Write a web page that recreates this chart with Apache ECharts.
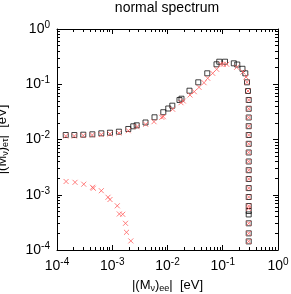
<!DOCTYPE html>
<html><head><meta charset="utf-8">
<script src="https://cdn.jsdelivr.net/npm/echarts@6/dist/echarts.min.js"></script>
<style>html,body{margin:0;padding:0;background:#fff}#c{width:291px;height:294px}</style>
</head><body><div id="c"></div>
<script>
var titleText = 'normal spectrum';
var xName = '|(M{sub|ν}){sub|ee}|  [eV]';
var yName = '|(M{sub|ν}){sub|eτ}|  [eV]';

// black open squares
var squareX = [1.44e-4, 2.06e-4, 2.99e-4, 4.36e-4, 6.34e-4, 9.1e-4, 1.32e-3, 1.95e-3, 2.40e-3, 2.77e-3,
  4.0e-3, 5.82e-3, 8.39e-3, 0.01033, 0.01222, 0.01648, 0.01791, 0.0250, 0.03606, 0.05248,
  0.0771, 0.0865, 0.1099, 0.1585, 0.1832, 0.2275, 0.2559, 0.2748, 0.2864,
  0.2951, 0.2951, 0.2951, 0.2951, 0.2951, 0.2951, 0.2951, 0.2951, 0.2951, 0.2951,
  0.2951, 0.2951, 0.2951, 0.2951, 0.2951, 0.2951, 0.2951, 0.2951];
var squareY = [0.01205, 0.01205, 0.01222, 0.01242, 0.01294, 0.01327, 0.01384, 0.01549, 0.01734, 0.01807,
  0.02032, 0.02523, 0.03119, 0.03639, 0.04093, 0.05188, 0.05470, 0.07638, 0.1084, 0.1578,
  0.2296, 0.2559, 0.2559, 0.2393, 0.2275, 0.1905, 0.1578, 0.1084, 0.0755,
  0.0519, 0.0360, 0.0250, 0.0174, 0.01205, 0.00836, 0.00582, 0.0040, 0.00278, 0.00193,
  0.00132, 0.00091, 6.25e-4, 5.08e-4, 4.4e-4, 3.04e-4, 2.0e-4, 1.43e-4];

// red crosses
var crossX = [1.44e-4, 2.06e-4, 2.99e-4, 4.36e-4, 6.34e-4, 9.1e-4, 1.32e-3, 1.95e-3, 2.81e-3, 4.03e-3,
  5.70e-3, 7.85e-3, 8.39e-3, 0.01242, 0.01754, 0.01932, 0.02553, 0.03055, 0.03715, 0.04581,
  0.05346, 0.06577, 0.07762, 0.0929, 0.1023, 0.1180, 0.1786, 0.2328, 0.2636, 0.2748, 0.2864,
  0.2951, 0.2951, 0.2951, 0.2951, 0.2951, 0.2951, 0.2951, 0.2951, 0.2951, 0.2951,
  0.2951, 0.2951, 0.2951, 0.2951, 0.2951, 0.2951, 0.2951,
  1.46e-4, 2.12e-4, 3.05e-4, 4.40e-4, 4.54e-4, 6.34e-4, 8.38e-4, 9.1e-4, 1.233e-3, 1.343e-3,
  1.545e-3, 1.738e-3, 1.811e-3, 2.168e-3];
var crossY = [0.01156, 0.01156, 0.0118, 0.01205, 0.0123, 0.0126, 0.01312, 0.01442, 0.01706, 0.01884,
  0.0210, 0.02523, 0.02588, 0.03524, 0.04634, 0.04977, 0.06383, 0.07328, 0.0881, 0.1067,
  0.1282, 0.1578, 0.1866, 0.2296, 0.2296, 0.2296, 0.2028, 0.1667, 0.1352, 0.1084, 0.0755,
  0.0519, 0.0360, 0.0250, 0.0174, 0.01205, 0.00836, 0.00582, 0.0040, 0.00278, 0.00193,
  0.00132, 0.00091, 6.25e-4, 5.64e-4, 3.04e-4, 2.0e-4, 1.43e-4,
  1.738e-3, 1.679e-3, 1.552e-3, 1.365e-3, 1.309e-3, 1.183e-3, 9.0e-4, 8.2e-4, 6.31e-4, 4.49e-4,
  4.43e-4, 3.04e-4, 2.09e-4, 1.46e-4];

function zip(a, b) { return a.map(function (v, i) { return [v, b[i]]; }); }
var FONT = '"Liberation Sans", Arial, sans-serif';
function fmt(v) {
  var e = Math.round(Math.log(v) / Math.LN10);
  return '{b|10}{s|' + e + '}';
}
var labelRich = {
  b: { fontSize: 14, fontFamily: FONT, color: '#000' },
  s: { fontSize: 10, fontFamily: FONT, color: '#000', padding: [0, 0, 8, 0] }
};
var nameRich = {
  sub: { fontSize: 9, fontFamily: FONT, color: '#000', padding: [6, 0, 0, 0] }
};
function baseAxis(pos, showLabel) {
  return {
    type: 'log', logBase: 10, min: 1e-4, max: 1, position: pos,
    axisLine: { show: true, onZero: false, lineStyle: { color: '#000', width: 1 } },
    axisTick: { show: true, inside: true, length: 5, lineStyle: { color: '#000' } },
    splitLine: { show: false },
    minorTick: { show: true, splitNumber: 9, length: 3, lineStyle: { color: '#000', width: 1 } },
    axisLabel: { show: showLabel, formatter: fmt, rich: labelRich, margin: 7 }
  };
}
var xb = baseAxis('bottom', true);
xb.name = xName; xb.nameLocation = 'middle'; xb.nameGap = 28;
xb.nameTextStyle = { fontSize: 13, fontFamily: FONT, color: '#000', rich: nameRich };
var xt = baseAxis('top', false);
var yl = baseAxis('left', true);
yl.name = yName; yl.nameLocation = 'middle'; yl.nameGap = 47;
yl.nameTextStyle = { fontSize: 13, fontFamily: FONT, color: '#000', rich: nameRich };
var yr = baseAxis('right', false);

var chart = echarts.init(document.getElementById('c'), null, { renderer: 'canvas' });
chart.setOption({
  animation: false,
  backgroundColor: '#fff',
  title: { text: titleText, left: 167, textAlign: 'center', top: 1, padding: 0,
    textStyle: { fontSize: 14, fontWeight: 'normal', fontFamily: FONT, color: '#000' } },
  grid: { left: 57, top: 29, width: 221, height: 221, containLabel: false, outerBoundsMode: 'none' },
  xAxis: [xb, xt],
  yAxis: [yl, yr],
  series: [
    { type: 'scatter', xAxisIndex: 0, yAxisIndex: 0, data: zip(squareX, squareY),
      symbol: 'rect', symbolSize: 5,
      itemStyle: { color: 'none', borderColor: '#111', borderWidth: 1 } },
    { type: 'scatter', xAxisIndex: 0, yAxisIndex: 0, data: zip(crossX, crossY),
      symbol: 'path://M0,0L10,10M10,0L0,10', symbolSize: 5,
      itemStyle: { color: 'none', borderColor: '#ff6060', borderWidth: 1 } }
  ]
});
</script></body></html>
